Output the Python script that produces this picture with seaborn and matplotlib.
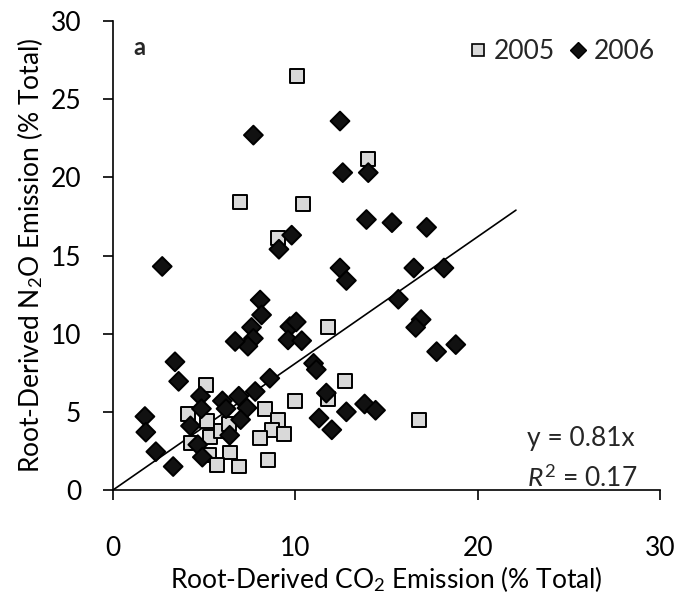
import numpy as np
import pandas as pd
import matplotlib
matplotlib.use("Agg")
import matplotlib.pyplot as plt
import seaborn as sns
from matplotlib.lines import Line2D

# ---- data ----
co2_2005 = [10.1, 6.95, 10.4, 9.05, 14.0, 11.8, 12.7, 11.8, 16.8, 5.1, 4.1, 5.15, 5.3, 5.9,
            6.35, 4.3, 5.25, 6.4, 5.7, 6.9, 10.0, 8.35, 9.05, 8.7, 9.4, 8.05, 8.5]
n2o_2005 = [26.5, 18.4, 18.3, 16.1, 21.2, 10.4, 7.0, 5.8, 4.5, 6.7, 4.85, 4.4, 3.4, 3.75,
            4.2, 3.0, 2.25, 2.4, 1.6, 1.5, 5.7, 5.2, 4.5, 3.85, 3.6, 3.3, 1.9]
co2_2006 = [7.7, 2.7, 9.1, 9.8, 12.45, 12.6, 14.0, 13.9, 15.3, 17.2, 12.45, 12.8, 16.5, 18.15,
            15.65, 16.9, 16.6, 17.75, 18.8, 8.07, 8.15, 7.6, 7.7, 7.4, 6.7, 9.7, 10.05, 9.6,
            10.35, 11.0, 11.15, 11.7, 11.3, 12.0, 12.8, 13.8, 14.4, 8.6, 7.8, 7.35, 6.9, 7.0,
            6.4, 6.0, 6.2, 3.4, 3.6, 4.8, 4.85, 4.25, 4.65, 4.9, 1.75, 1.8, 2.35, 3.3]
n2o_2006 = [22.7, 14.3, 15.4, 16.3, 23.6, 20.3, 20.3, 17.3, 17.1, 16.8, 14.2, 13.4, 14.2, 14.2,
            12.2, 10.9, 10.4, 8.85, 9.3, 12.15, 11.2, 10.4, 9.7, 9.2, 9.5, 10.45, 10.75, 9.6,
            9.55, 8.1, 7.7, 6.2, 4.6, 3.85, 5.0, 5.5, 5.1, 7.15, 6.3, 5.25, 6.0, 4.5,
            3.5, 5.7, 5.2, 8.2, 6.95, 6.0, 5.2, 4.1, 2.9, 2.1, 4.7, 3.7, 2.45, 1.5]
years = ["2005", "2006"]
slope = 0.81
r2 = 0.17
fit_x_end = 22.1
x_ticks = [0, 10, 20, 30]
y_ticks = [0, 5, 10, 15, 20, 25, 30]

df = pd.DataFrame({
    "co2": co2_2005 + co2_2006,
    "n2o": n2o_2005 + n2o_2006,
    "year": [years[0]] * len(co2_2005) + [years[1]] * len(co2_2006),
})

sns.set_theme(style="white")
plt.rcParams["font.family"] = ["Lato", "DejaVu Sans"]
plt.rcParams["mathtext.fontset"] = "custom"
plt.rcParams["mathtext.rm"] = "Lato"
plt.rcParams["mathtext.it"] = "Lato:italic"
plt.rcParams["mathtext.bf"] = "Lato:bold"

FS = 19

fig = plt.figure(figsize=(6.78, 5.97), dpi=100)
ax = fig.add_axes([113 / 678, 1 - 490 / 597, (660 - 113) / 678, (490 - 21) / 597])

palette = {"2005": "#d9d9d9", "2006": "#111111"}
markers = {"2005": "s", "2006": "D"}
sizes = {"2005": 100, "2006": 92}
sns.scatterplot(data=df, x="co2", y="n2o", hue="year", style="year", size="year",
                hue_order=years, style_order=years, size_order=years, sizes=sizes,
                palette=palette, markers=markers,
                edgecolor="black", linewidth=1.4, ax=ax, legend=False, zorder=3)

ax.plot([0, fit_x_end], [0, slope * fit_x_end], color="black", lw=1.2, zorder=2)

ax.set_xlim(0, 30)
ax.set_ylim(0, 30)
ax.set_xticks(x_ticks)
ax.set_yticks(y_ticks)
for s in ["top", "right"]:
    ax.spines[s].set_visible(False)
for s in ["left", "bottom"]:
    ax.spines[s].set_color("black")
    ax.spines[s].set_linewidth(1.2)
ax.tick_params(axis="both", direction="out", length=7, width=1.2, color="black",
               labelsize=FS, labelcolor="black", left=True, bottom=True)
ax.tick_params(axis="x", pad=26)
ax.tick_params(axis="y", pad=16)

ax.set_xlabel("Root-Derived CO$_2$ Emission (% Total)", fontsize=FS, color="black", labelpad=2)
ax.set_ylabel("Root-Derived N$_2$O Emission (% Total)", fontsize=FS, color="black", labelpad=4)

ax.text(1.1, 28.3, "a", fontsize=17, fontweight="bold", ha="left", va="center")
ax.text(22.7, 3.3, f"y = {slope}x", fontsize=FS, ha="left", va="center")
ax.text(22.7, 0.75, f"$R^2$ = {r2}", fontsize=FS, ha="left", va="center")

handles = [
    Line2D([], [], marker="s", ls="", markerfacecolor=palette["2005"], markeredgecolor="black",
           markeredgewidth=1.2, markersize=9),
    Line2D([], [], marker="D", ls="", markerfacecolor=palette["2006"], markeredgecolor="black",
           markeredgewidth=1.0, markersize=8),
]
ax.legend(handles, years, ncol=2, frameon=False, loc="upper right",
          bbox_to_anchor=(1.025, 1.0), fontsize=FS, handletextpad=0.1,
          columnspacing=0.4, handlelength=1.0, borderpad=0.2)

fig.savefig("out.png", dpi=100)
